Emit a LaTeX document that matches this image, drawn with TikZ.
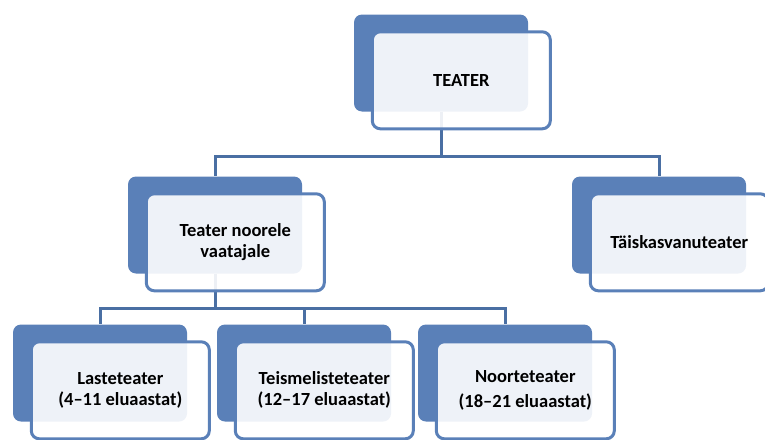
\documentclass[tikz,border=0pt]{standalone}
\usepackage{fontspec}
\setmainfont{Carlito}
\usetikzlibrary{positioning,backgrounds}
\definecolor{cardblue}{HTML}{5A80B8}
\definecolor{linkblue}{HTML}{4A6FA3}
\begin{document}
\begin{tikzpicture}[x=1pt, y=-1pt, line join=round, line cap=round,
		font=\bfseries\fontsize{18.5}{21}\selectfont,
		back/.style={fill=cardblue, rounded corners=8pt, minimum width=174pt, minimum height=97pt, inner sep=0pt},
		front/.style={draw=cardblue, line width=3pt, fill=white, fill opacity=.9, text opacity=1, rounded corners=8pt,
			minimum width=178pt, minimum height=97pt, align=center, inner sep=2pt},
		link/.style={draw=linkblue, line width=3pt}]
		\useasboundingbox (0,0) rectangle (765,439);
		\def\dx{17pt}\def\dy{16pt}
		% top
		\node[back] (teaterB) at (441,63) {};
		\node[front, below right=\dy and \dx of teaterB.north west] (teater) {TEATER};
		% second row
		\node[back] (noorB) at (215,225) {};
		\node[front, below right=\dy and \dx of noorB.north west] (noor) {Teater noorele\\vaatajale};
		\node[back] (taiskB) at (659,225) {};
		\node[front, below right=\dy and \dx of taiskB.north west] (taisk) {Täiskasvanuteater};
		% third row
		\foreach \n/\x/\t in {laste/100/{Lasteteater\\(4--11 eluaastat)},
			teism/304/{Teismelisteteater\\(12--17 eluaastat)},
			noort/505/{Noorteteater\\[4pt](18--21 eluaastat)}}{
			\node[back] (\n B) at (\x,373) {};
			\node[front, below right=\dy and \dx of \n B.north west] (\n) {\t};
		}
		\begin{scope}[on background layer]
			\draw[link] (teaterB.south) -- ++(0,45) -| (noorB.north);
			\draw[link] (teaterB.south) -- ++(0,45) -| (taiskB.north);
			\foreach \n in {laste,teism,noort}\draw[link] (noorB.south) -- ++(0,35) -| (\n B.north);
		\end{scope}
\end{tikzpicture}
\end{document}
